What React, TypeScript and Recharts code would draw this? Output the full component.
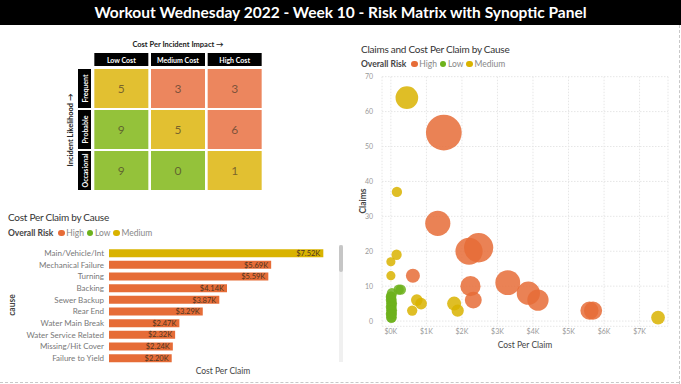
import { ScatterChart, Scatter, BarChart, Bar, Cell, LabelList, XAxis, YAxis, ZAxis, CartesianGrid } from "recharts";

// risk matrix
const costLevels = ["Low Cost", "Medium Cost", "High Cost"];
const likelihoods = ["Frequent", "Probable", "Occasional"];
const matrixCounts = [
  [5, 3, 3],
  [9, 5, 6],
  [9, 0, 1],
];
const matrixRisk = [
  ["Medium", "High", "High"],
  ["Low", "Medium", "High"],
  ["Low", "Low", "Medium"],
];

// bar chart: top 10 causes by cost per claim ($K)
const causes = [
  "Main/Vehicle/Int", "Mechanical Failure", "Turning", "Backing", "Sewer Backup",
  "Rear End", "Water Main Break", "Water Service Related", "Missing/Hit Cover", "Failure to Yield",
];
const costPerClaim = [7.52, 5.69, 5.59, 4.14, 3.87, 3.29, 2.47, 2.32, 2.24, 2.2];
const causeRisk = ["Medium", "High", "High", "High", "High", "High", "High", "High", "High", "High"];

// bubble chart: one bubble per cause
const bubbleRisk = [
  "High", "High", "High", "High", "High", "High", "High", "High", "High", "High", "High", "High",
  "Medium", "Medium", "Medium", "Medium", "Medium", "Medium", "Medium", "Medium", "Medium", "Medium", "Medium",
  "Low", "Low", "Low", "Low", "Low", "Low", "Low", "Low", "Low", "Low", "Low", "Low", "Low", "Low", "Low", "Low", "Low", "Low",
];
const bubbleCost = [
  1.49, 1.32, 2.2, 2.47, 0.62, 2.24, 2.32, 3.29, 3.87, 4.14, 5.59, 5.69,
  0.45, 0.17, 0.16, 0.0, 0.0, 0.73, 0.85, 0.6, 1.78, 1.88, 7.52,
  0.22, 0.28, 0.01, 0.02, 0.0, 0.03, 0.01, 0.02, 0.0, 0.03, 0.01, 0.02, 0.0, 0.02, 0.01, 0.03, 0.0, 0.02,
];
const bubbleClaims = [
  54, 28, 20, 21, 13, 10, 6, 11, 8, 6, 3, 3,
  64, 37, 19, 17, 13, 6, 5, 3, 5, 3, 1,
  9, 9, 7, 6, 6, 5, 5, 4, 4, 3, 3, 2, 2, 1, 1, 8, 7, 2,
];
const bubbleSize = [
  80, 37, 44, 52, 8, 22, 14, 36, 31, 25, 17, 17,
  29, 2, 2, 0.5, 0.5, 4, 4, 2, 8, 5, 7.5,
  2, 2, 2, 2, 2, 2, 2, 2, 2, 2, 2, 2, 2, 2, 2, 2, 2, 2,
];

const riskOrder = ["High", "Low", "Medium"];
const riskColor: Record<string, string> = { High: "#E66C37", Low: "#6DB21C", Medium: "#D9B300" };
const matrixColor: Record<string, string> = { High: "#EC865E", Low: "#94C23A", Medium: "#E2C031" };

const font = "Lato, 'Open Sans', sans-serif";

const matrixData = likelihoods.flatMap((l, i) =>
  costLevels.map((c, j) => ({ likelihood: l, cost: c, count: matrixCounts[i][j], risk: matrixRisk[i][j] }))
);
const barData = causes.map((c, i) => ({ cause: c, cost: costPerClaim[i], risk: causeRisk[i] }));
const bubbles = bubbleCost.map((x, i) => ({ cost: x, claims: bubbleClaims[i], size: bubbleSize[i], risk: bubbleRisk[i] }));

const MatrixCell = (p: any) => (
  <g>
    <rect x={p.cx - 27} y={p.cy - 19.5} width={54} height={39} fill={matrixColor[p.payload.risk]} />
    <text x={p.cx} y={p.cy} textAnchor="middle" dominantBaseline="central" fontSize={12} fill="#4a3a2a" fillOpacity={0.7} fontFamily={font}>
      {p.payload.count}
    </text>
  </g>
);

const ColTick = (p: any) => (
  <g>
    <rect x={p.x - 27} y={p.y - 15} width={54} height={13} fill="#000" />
    <text x={p.x} y={p.y - 8.5} textAnchor="middle" dominantBaseline="central" fontSize={7} fontWeight={700} fill="#fff" fontFamily={font}>
      {p.payload.value}
    </text>
  </g>
);

const RowTick = (p: any) => (
  <g>
    <rect x={p.x - 15} y={p.y - 19.5} width={13} height={39} fill="#000" />
    <text x={p.x - 8.5} y={p.y} transform={`rotate(-90 ${p.x - 8.5} ${p.y})`} textAnchor="middle" dominantBaseline="central" fontSize={7} fontWeight={700} fill="#fff" fontFamily={font}>
      {p.payload.value}
    </text>
  </g>
);

const CauseTick = (p: any) => (
  <text x={p.x} y={p.y} textAnchor="end" dominantBaseline="central" fontSize={8} fill="#777" fontFamily={font}>
    {p.payload.value}
  </text>
);

function Legend({ left, top }: { left: number; top: number }) {
  return (
    <div style={{ position: "absolute", left, top, fontSize: 8.5, color: "#888", fontFamily: font, display: "flex", alignItems: "center", whiteSpace: "nowrap" }}>
      <span style={{ fontWeight: 700, color: "#444", marginRight: 5 }}>Overall Risk</span>
      {riskOrder.map((r) => (
        <span key={r} style={{ display: "flex", alignItems: "center", marginRight: 3 }}>
          <span style={{ width: 6.5, height: 6.5, borderRadius: 4, background: riskColor[r], marginRight: 1.5 }} />
          {r}
        </span>
      ))}
    </div>
  );
}

function Rotated({ x, y, text, size, bold, color }: { x: number; y: number; text: string; size: number; bold?: boolean; color: string }) {
  return (
    <div style={{ position: "absolute", left: x, top: y, transform: "translate(-50%, -50%) rotate(-90deg)", whiteSpace: "nowrap", fontSize: size, fontWeight: bold ? 700 : 400, color, fontFamily: font }}>
      {text}
    </div>
  );
}

const titleStyle = { position: "absolute" as const, fontSize: 10, letterSpacing: -0.25, color: "#333", whiteSpace: "nowrap" as const };

export default function App() {
  return (
    <div style={{ position: "absolute", left: 0, top: 0, width: 681, height: 384, background: "#fff", overflow: "hidden", fontFamily: font }}>
      <div style={{ position: "absolute", left: 0, top: 0, width: 681, height: 25, background: "#000", color: "#fff", fontWeight: 700, fontSize: 15.5, textAlign: "center", lineHeight: "25px" }}>
        Workout Wednesday 2022 - Week 10 - Risk Matrix with Synoptic Panel
      </div>
      <div style={{ position: "absolute", left: 679, top: 25, height: 359, borderLeft: "1px dashed #c8c8c8" }} />
      <div style={{ position: "absolute", left: 0, top: 382, width: 679, borderTop: "1px dashed #c8c8c8" }} />

      {/* risk matrix */}
      <div style={{ position: "absolute", left: 178, top: 44, transform: "translate(-50%, -50%)", fontSize: 7.5, fontWeight: 700, color: "#222", whiteSpace: "nowrap" }}>
        Cost Per Incident Impact →
      </div>
      <Rotated x={70} y={130} text="Incident Likelihood →" size={7.5} bold color="#222" />
      <div style={{ position: "absolute", left: 0, top: 30 }}>
        <ScatterChart width={340} height={170} margin={{ top: 23, right: 77, bottom: 9, left: 78 }}>
          <XAxis type="category" dataKey="cost" orientation="top" height={15} allowDuplicatedCategory={false}
            axisLine={false} tickLine={false} tickSize={0} tickMargin={0} tick={<ColTick />} interval={0} />
          <YAxis type="category" dataKey="likelihood" width={15} allowDuplicatedCategory={false} reversed
            axisLine={false} tickLine={false} tickSize={0} tickMargin={0} tick={<RowTick />} interval={0} />
          <Scatter data={matrixData} shape={<MatrixCell />} isAnimationActive={false} />
        </ScatterChart>
      </div>

      {/* bar chart */}
      <div style={{ ...titleStyle, left: 8, top: 211 }}>Cost Per Claim by Cause</div>
      <Legend left={8} top={228} />
      <Rotated x={12} y={305} text="cause" size={8.5} bold color="#444" />
      <div style={{ position: "absolute", left: 223, top: 371, transform: "translate(-50%, -50%)", fontSize: 8.5, color: "#444", whiteSpace: "nowrap" }}>Cost Per Claim</div>
      <div style={{ position: "absolute", left: 339, top: 245, width: 4, height: 117, background: "#f0f0f0" }} />
      <div style={{ position: "absolute", left: 339, top: 245, width: 4, height: 27, background: "#c6c6c6", borderRadius: 2 }} />
      <div style={{ position: "absolute", left: 0, top: 240 }}>
        <BarChart width={345} height={140} layout="vertical" data={barData} margin={{ top: 7.2, right: 8, bottom: 16.2, left: 8 }} barSize={8}>
          <XAxis type="number" domain={[0, 8]} hide />
          <YAxis type="category" dataKey="cause" width={101} axisLine={false} tickLine={false} tickSize={0} tickMargin={5}
            tick={<CauseTick />} interval={0} />
          <Bar dataKey="cost" isAnimationActive={false}>
            {barData.map((d) => (
              <Cell key={d.cause} fill={riskColor[d.risk]} />
            ))}
            <LabelList dataKey="cost" position="insideRight" offset={3} fontSize={7.5} fill="#4d3520" fontFamily={font}
              formatter={(v: any) => `$${Number(v).toFixed(2)}K`} />
          </Bar>
        </BarChart>
      </div>

      {/* bubble chart */}
      <div style={{ ...titleStyle, left: 361, top: 43 }}>Claims and Cost Per Claim by Cause</div>
      <Legend left={361} top={59} />
      <Rotated x={363} y={201} text="Claims" size={8.5} bold color="#444" />
      <div style={{ position: "absolute", left: 525, top: 345, transform: "translate(-50%, -50%)", fontSize: 8.5, color: "#444", whiteSpace: "nowrap" }}>Cost Per Claim</div>
      <div style={{ position: "absolute", left: 350, top: 66 }}>
        <ScatterChart width={331} height={290} margin={{ top: 10.7, right: 13, bottom: 9.7, left: 6 }}>
          <CartesianGrid stroke="#e6e6e6" strokeDasharray="1.5 1.5" />
          <XAxis type="number" dataKey="cost" domain={[-0.25, 7.8]} ticks={[0, 1, 2, 3, 4, 5, 6, 7]} allowDataOverflow height={20}
            axisLine={false} tickLine={false} tickSize={0} tickMargin={3} tickFormatter={(v: number) => `$${v}K`}
            tick={{ fontSize: 7, fill: "#999", fontFamily: font }} />
          <YAxis type="number" dataKey="claims" domain={[-1.5, 70]} ticks={[0, 10, 20, 30, 40, 50, 60, 70]} allowDataOverflow width={26}
            axisLine={false} tickLine={false} tickMargin={3} tick={{ fontSize: 7, fill: "#999", fontFamily: font }} />
          <ZAxis type="number" dataKey="size" domain={[0, 81]} range={[60, 1018]} />
          {["Low", "Medium", "High"].map((r) => (
            <Scatter key={r} data={bubbles.filter((b) => b.risk === r)} fill={riskColor[r]} fillOpacity={0.85} isAnimationActive={false} />
          ))}
        </ScatterChart>
      </div>
    </div>
  );
}
